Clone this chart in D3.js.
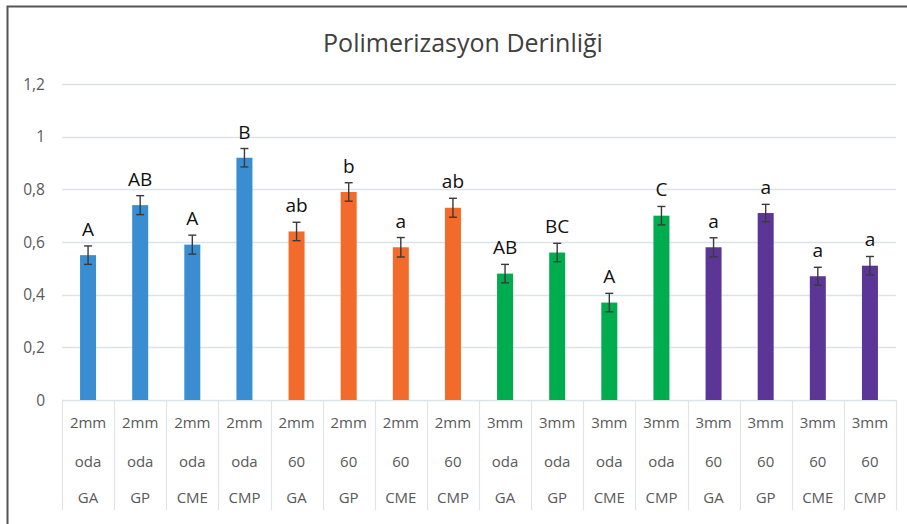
<!DOCTYPE html>
<html lang="tr">
<head>
<meta charset="UTF-8">
<title>Polimerizasyon Derinliği</title>
<style>
  body { margin: 0; background: #fff; }
  svg text { font-family: "Open Sans", "Noto Sans", sans-serif; }
</style>
</head>
<body>
<div id="chart"></div>
<script src="https://d3js.org/d3.v7.min.js"></script>
<script>
// data
var thickness = ["2mm","2mm","2mm","2mm","2mm","2mm","2mm","2mm","3mm","3mm","3mm","3mm","3mm","3mm","3mm","3mm"];
var temp = ["oda","oda","oda","oda","60","60","60","60","oda","oda","oda","oda","60","60","60","60"];
var material = ["GA","GP","CME","CMP","GA","GP","CME","CMP","GA","GP","CME","CMP","GA","GP","CME","CMP"];
var values = [0.55, 0.74, 0.59, 0.92, 0.64, 0.79, 0.58, 0.73, 0.48, 0.56, 0.37, 0.70, 0.58, 0.71, 0.47, 0.51];
var errors = [0.035, 0.036, 0.036, 0.035, 0.035, 0.035, 0.037, 0.036, 0.035, 0.035, 0.035, 0.035, 0.036, 0.033, 0.034, 0.035];
var letters = ["A","AB","A","B","ab","b","a","ab","AB","BC","A","C","a","a","a","a"];
var groups = [0,0,0,0,1,1,1,1,2,2,2,2,3,3,3,3];
var yTicks = [0, 0.2, 0.4, 0.6, 0.8, 1, 1.2];

var W = 907, H = 524;
var plotLeft = 62, plotRight = 896, plotTop = 84, plotBottom = 400;

var svg = d3.select("#chart").append("svg")
    .attr("width", W)
    .attr("height", H);

// outer frame (left and top edges visible)
svg.append("path")
    .attr("d", "M7.5," + H + " V6.5 H" + W)
    .attr("fill", "none")
    .attr("stroke", "#555")
    .attr("stroke-width", 2);

var x = d3.scaleBand()
    .domain(d3.range(values.length))
    .range([plotLeft, plotRight])
    .paddingInner(0)
    .paddingOuter(0);

var y = d3.scaleLinear()
    .domain([0, 1.2])
    .range([plotBottom, plotTop]);

var colors = d3.scaleOrdinal()
    .domain([0, 1, 2, 3])
    .range(["#3a8dd0", "#f26b2a", "#00ad4e", "#5c3697"]);

// gridlines
svg.append("g").selectAll("line")
    .data(yTicks)
    .enter().append("line")
    .attr("x1", plotLeft).attr("x2", plotRight)
    .attr("y1", function(d) { return Math.round(y(d)) + 0.5; })
    .attr("y2", function(d) { return Math.round(y(d)) + 0.5; })
    .attr("stroke", "#dce3e8")
    .attr("stroke-width", 1.3);

// y labels
svg.append("g").selectAll("text")
    .data(yTicks)
    .enter().append("text")
    .attr("x", 45)
    .attr("y", function(d) { return y(d) + 5.5; })
    .attr("text-anchor", "end")
    .attr("font-size", 15.5)
    .attr("fill", "#595959")
    .text(function(d) { return String(d).replace(".", ","); });

// category separators under the axis
var seps = d3.range(values.length + 1);
svg.append("g").selectAll("line")
    .data(seps)
    .enter().append("line")
    .attr("x1", function(i) { return Math.round(plotLeft + i * x.step()) + 0.5; })
    .attr("x2", function(i) { return Math.round(plotLeft + i * x.step()) + 0.5; })
    .attr("y1", plotBottom)
    .attr("y2", 510)
    .attr("stroke", "#e0e4e8")
    .attr("stroke-width", 1.2);

// bars
var bw = 16;
svg.append("g").selectAll("rect")
    .data(values)
    .enter().append("rect")
    .attr("x", function(d, i) { return x(i) + x.bandwidth() / 2 - bw / 2; })
    .attr("y", function(d) { return y(d); })
    .attr("width", bw)
    .attr("height", function(d) { return plotBottom - y(d); })
    .attr("fill", function(d, i) { return colors(groups[i]); });

// error bars
var eb = svg.append("g")
    .attr("stroke", "#3a3a3a")
    .attr("stroke-width", 1.4);
values.forEach(function(v, i) {
    var cx = x(i) + x.bandwidth() / 2;
    var y1 = y(v + errors[i]), y2 = y(v - errors[i]);
    eb.append("line").attr("x1", cx).attr("x2", cx).attr("y1", y1).attr("y2", y2);
    eb.append("line").attr("x1", cx - 4).attr("x2", cx + 4).attr("y1", y1).attr("y2", y1);
    eb.append("line").attr("x1", cx - 4).attr("x2", cx + 4).attr("y1", y2).attr("y2", y2);
});

// significance letters
svg.append("g").selectAll("text")
    .data(letters)
    .enter().append("text")
    .attr("x", function(d, i) { return x(i) + x.bandwidth() / 2; })
    .attr("y", function(d, i) { return y(values[i] + errors[i]) - 10; })
    .attr("text-anchor", "middle")
    .attr("font-size", 19)
    .attr("fill", "#111")
    .text(function(d) { return d; });

// category labels, three rows
var rows = [thickness, temp, material];
var rowY = [428, 467, 503];
rows.forEach(function(row, r) {
    svg.append("g").selectAll("text")
        .data(row)
        .enter().append("text")
        .attr("x", function(d, i) { return x(i) + x.bandwidth() / 2; })
        .attr("y", rowY[r])
        .attr("text-anchor", "middle")
        .attr("font-size", 15)
        .attr("fill", "#595959")
        .text(function(d) { return d; });
});

// title
svg.append("text")
    .attr("x", 463)
    .attr("y", 52)
    .attr("text-anchor", "middle")
    .attr("font-size", 25)
    .attr("fill", "#404040")
    .text("Polimerizasyon Derinliği");
</script>
</body>
</html>
